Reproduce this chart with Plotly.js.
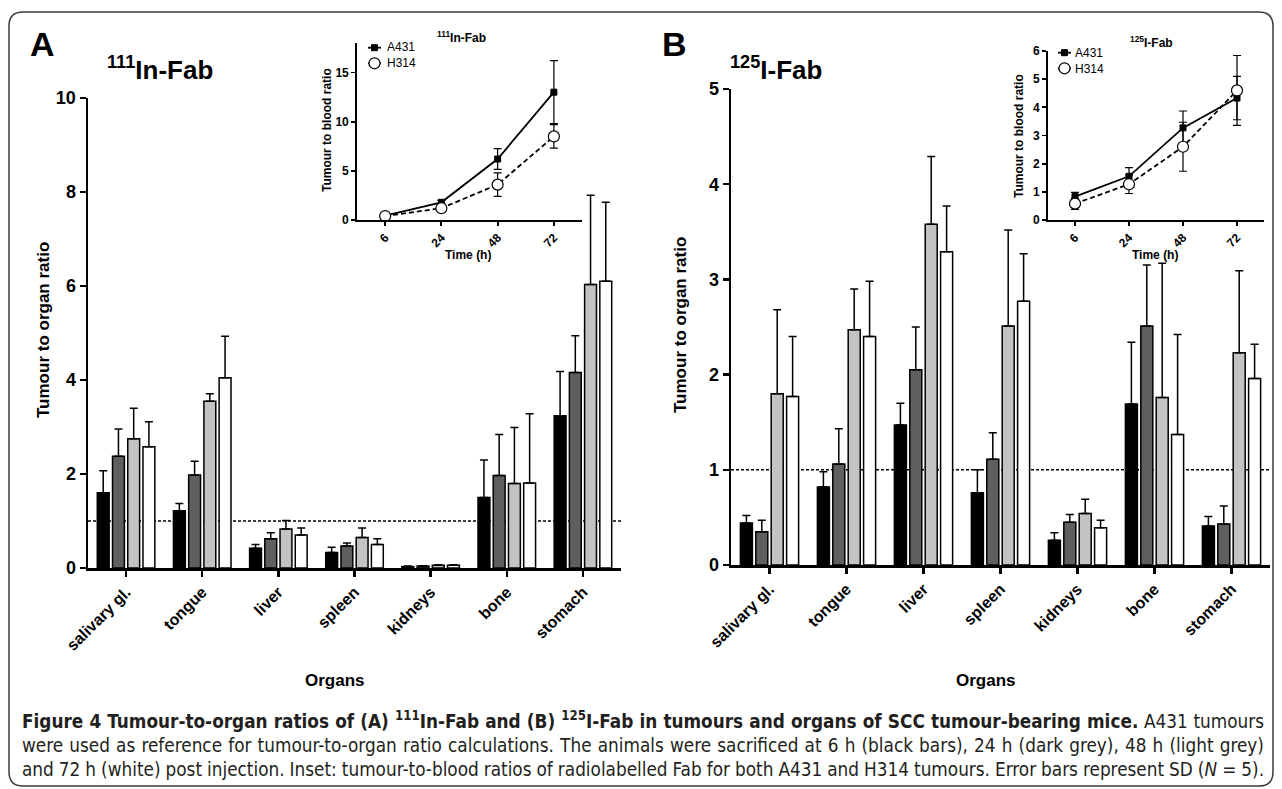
<!DOCTYPE html>
<html>
<head>
<meta charset="utf-8">
<script src="https://cdn.plot.ly/plotly-3.0.1.min.js"></script>
<style>html,body{margin:0;padding:0;background:#fff;}#chart{width:1282px;height:789px;}</style>
</head>
<body>
<div id="chart"></div>
<script>
// ---------- DATA ----------
const organs = ["salivary gl.", "tongue", "liver", "spleen", "kidneys", "bone", "stomach"];
const timeLabels = ["6", "24", "48", "72"];
const seriesNames = ["A431", "H314"];

// Panel A: 111In-Fab tumour-to-organ ratios (mean) and SD
const inA_6h  = [1.60, 1.22, 0.42, 0.33, 0.03, 1.50, 3.24];
const inA_24h = [2.38, 1.98, 0.62, 0.47, 0.04, 1.97, 4.16];
const inA_48h = [2.75, 3.55, 0.83, 0.65, 0.06, 1.80, 6.03];
const inA_72h = [2.58, 4.05, 0.70, 0.50, 0.06, 1.81, 6.10];
const inA_6h_sd  = [0.47, 0.15, 0.08, 0.11, 0.01, 0.80, 0.94];
const inA_24h_sd = [0.58, 0.29, 0.13, 0.06, 0.01, 0.87, 0.78];
const inA_48h_sd = [0.65, 0.16, 0.18, 0.20, 0.01, 1.19, 1.90];
const inA_72h_sd = [0.53, 0.88, 0.15, 0.12, 0.01, 1.47, 1.68];

// Panel B: 125I-Fab tumour-to-organ ratios (mean) and SD
const iB_6h  = [0.44, 0.82, 1.47, 0.76, 0.26, 1.69, 0.41];
const iB_24h = [0.35, 1.06, 2.05, 1.11, 0.45, 2.51, 0.43];
const iB_48h = [1.80, 2.47, 3.58, 2.51, 0.54, 1.76, 2.23];
const iB_72h = [1.77, 2.40, 3.29, 2.77, 0.39, 1.37, 1.96];
const iB_6h_sd  = [0.08, 0.16, 0.23, 0.24, 0.08, 0.65, 0.10];
const iB_24h_sd = [0.12, 0.37, 0.45, 0.28, 0.08, 0.64, 0.19];
const iB_48h_sd = [0.88, 0.43, 0.71, 1.01, 0.15, 1.41, 0.86];
const iB_72h_sd = [0.63, 0.58, 0.48, 0.50, 0.08, 1.05, 0.36];

// Insets: tumour-to-blood ratios
const insetA_A431 = [0.45, 1.8, 6.2, 13.0];
const insetA_A431_sd = [0.3, 0.2, 1.05, 3.2];
const insetA_H314 = [0.4, 1.2, 3.6, 8.5];
const insetA_H314_sd = [0.35, 0.2, 1.2, 1.2];
const insetB_A431 = [0.83, 1.55, 3.27, 4.33];
const insetB_A431_sd = [0.15, 0.31, 0.6, 0.77];
const insetB_H314 = [0.58, 1.27, 2.6, 4.6];
const insetB_H314_sd = [0.2, 0.33, 0.87, 1.24];

const referenceLine = 1;

// ---------- HELPERS ----------
const W = 1282, H = 789;
const px = x => x / W;
const py = y => 1 - y / H;
const FONT = '"Liberation Sans", Arial, sans-serif';
const CAPFONT = '"DejaVu Sans Condensed", "Liberation Sans Narrow", sans-serif';
const barColors = ["#000000", "#5f5f5f", "#c3c3c3", "#ffffff"];

function barTrace(vals, sd, color, xa, ya) {
  return {
    type: "bar", x: organs, y: vals, xaxis: xa, yaxis: ya,
    marker: {color: color, line: {color: "#000", width: 1.5}},
    error_y: {type: "data", symmetric: false, array: sd, arrayminus: sd.map(() => 0),
              color: "#000", thickness: 1.5, width: 4},
    showlegend: false, hoverinfo: "skip"
  };
}
function lineTrace(name, vals, sd, solid, xa, ya) {
  return {
    type: "scatter", mode: "lines+markers", name: name, x: timeLabels, y: vals,
    xaxis: xa, yaxis: ya, showlegend: false,
    line: {color: "#000", width: 1.8, dash: solid ? "solid" : "5px,3px"},
    marker: solid ? {symbol: "square", size: 6, color: "#000", line: {color: "#000", width: 1}}
                  : {symbol: "circle", size: 11, color: "#fff", line: {color: "#000", width: 1.2}},
    error_y: {type: "data", array: sd, color: "#000", thickness: 1.2, width: 4},
    hoverinfo: "skip"
  };
}

const data = [
  barTrace(inA_6h, inA_6h_sd, barColors[0], "x", "y"),
  barTrace(inA_24h, inA_24h_sd, barColors[1], "x", "y"),
  barTrace(inA_48h, inA_48h_sd, barColors[2], "x", "y"),
  barTrace(inA_72h, inA_72h_sd, barColors[3], "x", "y"),
  barTrace(iB_6h, iB_6h_sd, barColors[0], "x2", "y2"),
  barTrace(iB_24h, iB_24h_sd, barColors[1], "x2", "y2"),
  barTrace(iB_48h, iB_48h_sd, barColors[2], "x2", "y2"),
  barTrace(iB_72h, iB_72h_sd, barColors[3], "x2", "y2"),
  lineTrace(seriesNames[0], insetA_A431, insetA_A431_sd, true, "x3", "y3"),
  lineTrace(seriesNames[1], insetA_H314, insetA_H314_sd, false, "x3", "y3"),
  lineTrace(seriesNames[0], insetB_A431, insetB_A431_sd, true, "x4", "y4"),
  lineTrace(seriesNames[1], insetB_H314, insetB_H314_sd, false, "x4", "y4")
];

function mainX(d0, d1, anchor) {
  return {domain: [px(d0), px(d1)], anchor: anchor, type: "category", range: [-0.5, 6.5],
    showline: true, linecolor: "#000", linewidth: 2.5, ticks: "outside", ticklen: 6,
    tickwidth: 2.5, tickcolor: "#000", tickangle: -45, showgrid: false, zeroline: false,
    tickfont: {family: FONT, size: 16, color: "#000", weight: "bold"}, fixedrange: true};
}
function mainY(d0, d1, anchor, max, dt) {
  return {domain: [py(d1), py(d0)], anchor: anchor, range: [0, max], dtick: dt,
    showline: true, linecolor: "#000", linewidth: 2.5, ticks: "outside", ticklen: 6,
    tickwidth: 2.5, tickcolor: "#000", showgrid: false, zeroline: false,
    tickfont: {family: FONT, size: 18, color: "#000", weight: "bold"}, fixedrange: true};
}
function insetX(d0, d1, anchor) {
  return {domain: [px(d0), px(d1)], anchor: anchor, type: "category", range: [-0.5, 3.5],
    showline: true, linecolor: "#000", linewidth: 1.8, ticks: "outside", ticklen: 4,
    tickwidth: 1.8, tickcolor: "#000", tickangle: -45, showgrid: false, zeroline: false,
    tickfont: {family: FONT, size: 12, color: "#000", weight: "bold"}, fixedrange: true};
}
function insetY(d0, d1, anchor, max, dt) {
  return {domain: [py(d1), py(d0)], anchor: anchor, range: [0, max], dtick: dt,
    showline: true, linecolor: "#000", linewidth: 1.8, ticks: "outside", ticklen: 4,
    tickwidth: 1.8, tickcolor: "#000", showgrid: false, zeroline: false,
    tickfont: {family: FONT, size: 12, color: "#000", weight: "bold"}, fixedrange: true};
}

// rounded border
const bx0 = px(9), bx1 = px(1273), by0 = py(12), by1 = py(786);
const rx = px(14), ry = 14 / H;
const borderPath = `M ${bx0 + rx},${by0} L ${bx1 - rx},${by0} Q ${bx1},${by0} ${bx1},${by0 - ry} ` +
  `L ${bx1},${by1 + ry} Q ${bx1},${by1} ${bx1 - rx},${by1} L ${bx0 + rx},${by1} ` +
  `Q ${bx0},${by1} ${bx0},${by1 + ry} L ${bx0},${by0 - ry} Q ${bx0},${by0} ${bx0 + rx},${by0} Z`;

function ann(text, x, y, size, opts) {
  return Object.assign({text: text, x: px(x), y: py(y), xref: "paper", yref: "paper",
    showarrow: false, font: {family: FONT, size: size, color: "#000", weight: "bold"},
    xanchor: "center", yanchor: "middle"}, opts || {});
}
const capFont = {family: CAPFONT, size: 18.8, color: "#231f20"};

// legend keys for the insets (drawn as paper shapes + one two-line text)
const legFont = 12, legRow = legFont * 1.3;
function legendKeys(x, yc) {
  const y0 = yc - legRow / 2, y1 = yc + legRow / 2;
  return [
    {type: "line", xref: "paper", yref: "paper", x0: px(x), x1: px(x + 13), y0: py(y0), y1: py(y0),
     line: {color: "#000", width: 1.8}},
    {type: "rect", xref: "paper", yref: "paper", x0: px(x + 3.5), x1: px(x + 9.5), y0: py(y0 + 3), y1: py(y0 - 3),
     line: {color: "#000", width: 1}, fillcolor: "#000"},
    {type: "line", xref: "paper", yref: "paper", x0: px(x), x1: px(x + 13), y0: py(y1), y1: py(y1),
     line: {color: "#000", width: 1.8}},
    {type: "circle", xref: "paper", yref: "paper", x0: px(x + 1), x1: px(x + 12), y0: py(y1 + 5.5), y1: py(y1 - 5.5),
     line: {color: "#000", width: 1.2}, fillcolor: "#fff"}
  ];
}
const legA = {x: 368, yc: 55.5};
const legB = {x: 1058, yc: 60.5};
function legendText(l, dx) {
  return ann(seriesNames.join("<br>"), l.x + dx, l.yc, legFont,
    {xanchor: "left", align: "left", borderpad: 0, font: {family: FONT, size: legFont, color: "#000"}});
}

const layout = {
  width: W, height: H, margin: {l: 0, r: 0, t: 0, b: 0},
  paper_bgcolor: "#fff", plot_bgcolor: "rgba(0,0,0,0)",
  barmode: "group", bargap: 0.2, bargroupgap: 0.22,
  font: {family: FONT, color: "#000"},
  showlegend: false,
  xaxis: mainX(88, 621, "y"),
  yaxis: mainY(98, 568, "x", 10, 2),
  xaxis2: mainX(731, 1270, "y2"),
  yaxis2: mainY(89, 565, "x2", 5, 1),
  xaxis3: insetX(357, 582, "y3"),
  yaxis3: insetY(43, 220, "x3", 18, 5),
  xaxis4: insetX(1048, 1264, "y4"),
  yaxis4: insetY(51, 220, "x4", 6, 1),
  shapes: [
    {type: "path", xref: "paper", yref: "paper", path: borderPath,
     line: {color: "#3a3a3a", width: 1.5}, fillcolor: "rgba(0,0,0,0)", layer: "below"},
    {type: "line", xref: "x domain", yref: "y", x0: 0, x1: 1, y0: referenceLine, y1: referenceLine,
     line: {color: "#000", width: 1.5, dash: "3px,2px"}, layer: "below"},
    {type: "line", xref: "x2 domain", yref: "y2", x0: 0, x1: 1, y0: referenceLine, y1: referenceLine,
     line: {color: "#000", width: 1.5, dash: "3px,2px"}, layer: "below"}
  ].concat(legendKeys(legA.x, legA.yc), legendKeys(legB.x, legB.yc)),
  annotations: [
    ann("A", 42, 44, 34),
    ann("B", 674, 44, 34),
    ann("<sup>111</sup>In-Fab", 160, 68, 26),
    ann("<sup>125</sup>I-Fab", 776, 68, 26),
    ann("<sup>111</sup>In-Fab", 461, 37, 12),
    ann("<sup>125</sup>I-Fab", 1151, 42, 12),
    ann("Tumour to organ ratio", 43, 330, 17, {textangle: -90}),
    ann("Tumour to organ ratio", 680, 325, 17, {textangle: -90}),
    ann("Tumour to blood ratio", 327, 130, 12, {textangle: -90}),
    ann("Tumour to blood ratio", 1019, 136, 12, {textangle: -90}),
    ann("Time (h)", 468, 255, 12),
    ann("Time (h)", 1155, 255, 12),
    ann("Organs", 335, 680, 17),
    ann("Organs", 986, 680, 17),
    legendText(legA, 18),
    legendText(legB, 16),
    ann("<b>Figure 4 Tumour-to-organ ratios of (A) <sup>111</sup>In-Fab and (B) <sup>125</sup>I-Fab in tumours and organs of SCC tumour-bearing mice.</b> A431 tumours",
        20, 720, 18.8, {xanchor: "left", align: "left", font: capFont}),
    ann("were used as reference for tumour-to-organ ratio calculations. The animals were sacrificed at 6 h (black bars), 24 h (dark grey), 48 h (light grey)",
        20, 745, 18.8, {xanchor: "left", align: "left", font: capFont}),
    ann("and 72 h (white) post injection. Inset: tumour-to-blood ratios of radiolabelled Fab for both A431 and H314 tumours. Error bars represent SD (<i>N</i> = 5).",
        20, 769, 18.8, {xanchor: "left", align: "left", font: capFont})
  ]
};

// justify the three caption lines to the full text width, like the printed figure
const captionWidth = 1242;
Plotly.newPlot("chart", data, layout, {staticPlot: true, displayModeBar: false}).then(gd => {
  const texts = gd.querySelectorAll("text.annotation-text");
  const n = texts.length;
  for (let i = n - 3; i < n; i++) {
    const el = texts[i];
    const w = el.getBBox().width;
    const spaces = (el.textContent.match(/ /g) || []).length;
    if (spaces > 0) el.style.wordSpacing = ((captionWidth - w) / spaces).toFixed(2) + "px";
  }
});
</script>
</body>
</html>
